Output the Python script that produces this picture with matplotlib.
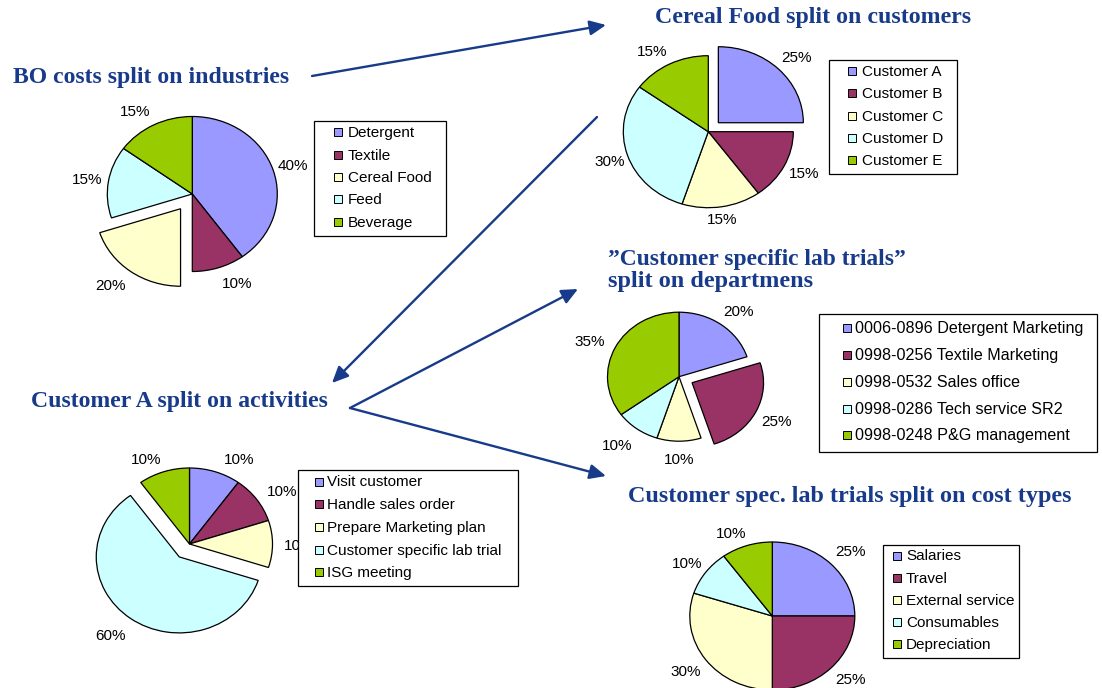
import matplotlib
matplotlib.use('Agg')
import matplotlib.pyplot as plt
from matplotlib.patches import Rectangle, FancyArrowPatch

W, H = 1102, 688

# ---------------- data ----------------
bo_labels = ['Detergent', 'Textile', 'Cereal Food', 'Feed', 'Beverage']
bo_values = [40, 10, 20, 15, 15]

cereal_labels = ['Customer A', 'Customer B', 'Customer C', 'Customer D', 'Customer E']
cereal_values = [25, 15, 15, 30, 15]

dept_labels = ['0006-0896 Detergent Marketing', '0998-0256 Textile Marketing',
               '0998-0532 Sales office', '0998-0286 Tech service SR2',
               '0998-0248 P&G management']
dept_values = [20, 25, 10, 10, 35]

activity_labels = ['Visit customer', 'Handle sales order', 'Prepare Marketing plan',
                   'Customer specific lab trial', 'ISG meeting']
activity_values = [10, 10, 10, 60, 10]

cost_labels = ['Salaries', 'Travel', 'External service', 'Consumables', 'Depreciation']
cost_values = [25, 25, 30, 10, 10]

titles = ['BO costs split on industries', 'Cereal Food split on customers',
          '\u201dCustomer specific lab trials\u201d', 'split on departmens',
          'Customer A split on activities',
          'Customer spec. lab trials split on cost types']

# ---------------- style ----------------
colors = ['#9999FF', '#993366', '#FFFFCC', '#CCFFFF', '#99CC00']
title_color = '#173A8A'
SANS = 'Liberation Sans'
SERIF = 'Liberation Serif'
FS = 11

fig = plt.figure(figsize=(W / 100, H / 100), dpi=100)
fig.patch.set_facecolor('white')
main = fig.add_axes([0, 0, 1, 1])
main.set_xlim(0, W)
main.set_ylim(H, 0)
main.axis('off')


def draw_pie(values, cx, cy, rx, ry, explode, label_pos, fs=FS):
    pad = 1.5
    ax = fig.add_axes([(cx - pad * rx) / W, (H - cy - pad * ry) / H,
                       2 * pad * rx / W, 2 * pad * ry / H])
    ax.pie(values, colors=colors, startangle=90, counterclock=False,
           explode=explode,
           wedgeprops=dict(edgecolor='black', linewidth=0.9))
    ax.set_xlim(-pad, pad)
    ax.set_ylim(-pad, pad)
    ax.set_aspect('auto')
    ax.axis('off')
    ax.patch.set_visible(False)
    for v, (x, y) in zip(values, label_pos):
        main.text(x, y + 5.5, f'{v}%', ha='center', va='baseline', fontsize=fs,
                  family=SANS, zorder=3)


def draw_legend(labels, box, y_first, step, sq_x, tx, fs=FS):
    x0, y0, x1, y1 = box
    main.add_patch(Rectangle((x0, y0), x1 - x0, y1 - y0, facecolor='white',
                             edgecolor='black', lw=0.9, zorder=5))
    for i, (lab, c) in enumerate(zip(labels, colors)):
        y = y_first + i * step
        main.add_patch(Rectangle((sq_x, y - 3.5), 8, 8, facecolor=c,
                                 edgecolor='black', lw=0.7, zorder=6))
        main.text(tx, y + 5.5, lab, fontsize=fs, family=SANS, ha='left',
                  va='baseline', zorder=7)


# ---------------- pies ----------------
draw_pie(bo_values, 192.3, 194, 85, 77.5, [0, 0, 0.235, 0, 0],
         [(293, 164), (237, 282), (111, 284), (87, 179), (135, 110)])
draw_pie(cereal_values, 708.3, 131.7, 85, 76, [0.167, 0, 0, 0, 0],
         [(796, 57), (804, 173), (722, 219), (610, 161), (652, 50)])
draw_pie(dept_values, 679, 376.7, 71.5, 64.5, [0, 0.205, 0, 0, 0],
         [(739, 310), (777, 420), (679, 458), (617, 444), (590, 341)])
draw_pie(activity_values, 189.5, 544, 83, 76, [0, 0, 0, 0.21, 0],
         [(239, 458), (282, 490), (299, 545), (111, 634), (146, 458)])
draw_pie(cost_values, 772.3, 616, 82.5, 74, [0, 0, 0, 0, 0],
         [(850, 551), (850, 678.5), (686, 670), (687, 562), (731, 532)])

# ---------------- legends ----------------
draw_legend(bo_labels, (314, 121, 446, 236), 131.7, 22.4, 334, 348)
draw_legend(cereal_labels, (829, 60, 957, 174), 70.7, 22.2, 848, 861.7)
draw_legend(dept_labels, (819, 314, 1097, 452), 327.7, 26.8, 842.5, 855, fs=11.6)
draw_legend(activity_labels, (298, 470, 518, 586), 481, 22.7, 314.5, 327.3)
draw_legend(cost_labels, (883, 545, 1019, 658), 555, 22.1, 892.5, 906)

# ---------------- titles ----------------
renderer = fig.canvas.get_renderer()
title_specs = [(13, 83.3, 276), (655, 23.3, 315), (608, 265, 298),
               (608, 287, 205), (31, 407.3, 296), (628, 501.7, 442)]
for txt, (x, yb, tw) in zip(titles, title_specs):
    t = main.text(x, yb, txt, fontsize=14.7, family=SERIF, weight='bold',
                  color=title_color, ha='left', va='baseline', zorder=4)
    w = t.get_window_extent(renderer).width
    fs = max(12.5, min(17.5, 14.7 * tw / w))
    t.set_fontsize(fs)

# ---------------- arrows ----------------
arrow_kw = dict(arrowstyle='-|>,head_length=0.7,head_width=0.32',
                mutation_scale=14, lw=1.7, color=title_color,
                shrinkA=0, shrinkB=0, zorder=2)
for (x0, y0), (x1, y1) in [((312, 76), (606, 25)),
                           ((597, 117), (332, 383)),
                           ((350, 408), (578, 289)),
                           ((350, 408), (606, 476))]:
    main.add_patch(FancyArrowPatch((x0, y0), (x1, y1), **arrow_kw))

fig.savefig('out.png', dpi=100, facecolor='white')
